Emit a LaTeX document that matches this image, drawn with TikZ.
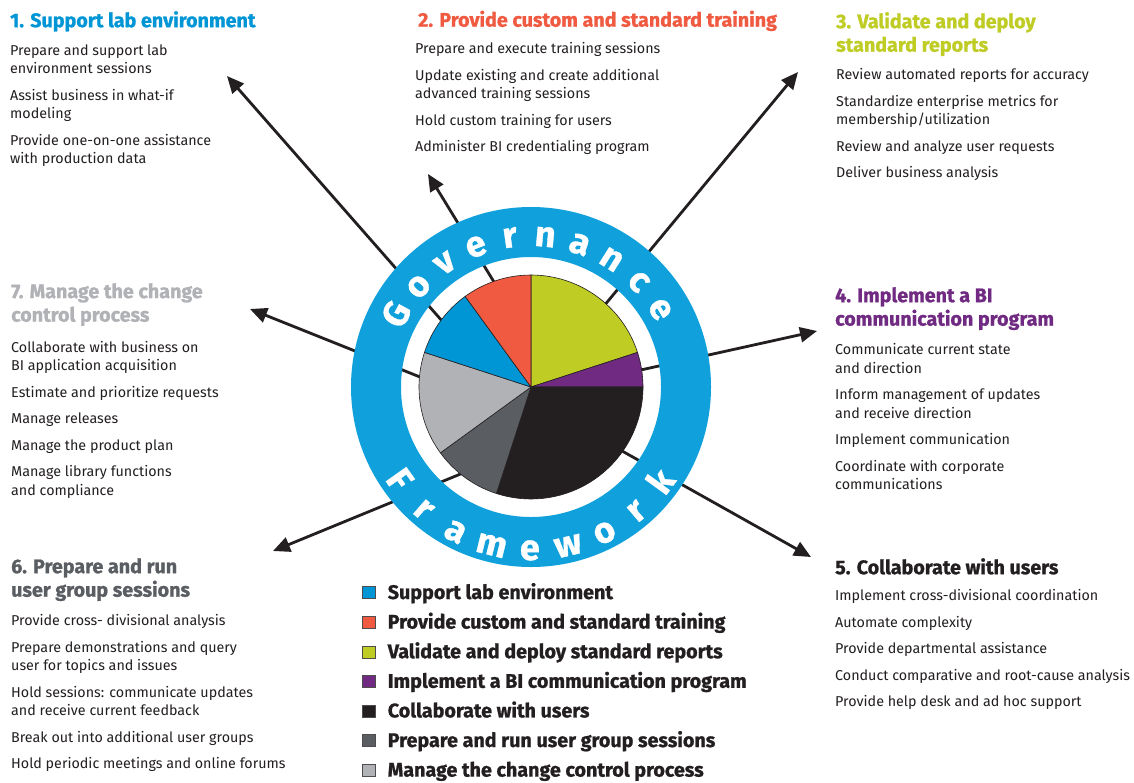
\documentclass[tikz,border=0pt]{standalone}
\usepackage{fontspec}
\setmainfont{Fira Sans}
\newfontfamily\headfont[BoldFeatures={FakeBold=1}]{Fira Sans}
\usetikzlibrary{arrows.meta, calc, positioning}
\definecolor{labcol}{RGB}{0, 150, 214}
\definecolor{traincol}{RGB}{240, 90, 64}
\definecolor{reportcol}{RGB}{190, 204, 36}
\definecolor{commcol}{RGB}{112, 42, 130}
\definecolor{usercol}{RGB}{35, 31, 32}
\definecolor{groupcol}{RGB}{90, 93, 98}
\definecolor{changecol}{RGB}{176, 178, 182}
\definecolor{ringcol}{RGB}{16, 160, 220}
\definecolor{inkcol}{RGB}{35, 31, 32}
\tikzset{
  head/.style  = {anchor=north west, align=left, inner sep=0pt,
                  font=\fontsize{19.7}{23.5}\selectfont\headfont\bfseries},
  body/.style  = {anchor=north west, align=left, inner sep=0pt, text=inkcol,
                  font=\fontsize{14.3}{18.5}\selectfont},
  spoke/.style = {draw=inkcol, line width=2.8pt,
                  -{Triangle[length=17pt, width=15pt]}},
  slice/.style = {draw=inkcol, line width=0.6pt, line join=round},
  % white letters set one by one round the ring
  ringletter/.style = {text=white, inner sep=0pt, anchor=base,
                  font=\fontsize{36}{36}\selectfont\headfont\bfseries},
  keybox/.style  = {draw=inkcol!80, line width=0.6pt, minimum width=13pt,
                  minimum height=12pt, inner sep=0pt, anchor=south west},
  keytext/.style = {anchor=base west, inner sep=0pt, text=inkcol,
                  font=\fontsize{19.7}{19.7}\selectfont\headfont\bfseries},
}

\begin{document}
\begin{tikzpicture}[x=1pt, y=-1pt]

  \fill[white] (0,0) rectangle (1134,782);
  \useasboundingbox (0,0) rectangle (1134,782);

  \coordinate (hub) at (531,387);

  %% ---------------- spokes, drawn first so the ring covers them ----------------
  \coordinate (s1) at (500,387);  \coordinate (e1) at (227,76);
  \coordinate (s2) at (505,300);  \coordinate (e2) at (428,174);
  \coordinate (s3) at (584,330);  \coordinate (e3) at (798,72);
  \coordinate (s4) at (600,379);  \coordinate (e4) at (817,331);
  \coordinate (s5) at (590,433);  \coordinate (e5) at (811,557);
  \coordinate (s6) at (480,466);  \coordinate (e6) at (273,551);
  \coordinate (s7) at (460,393);  \coordinate (e7) at (250,309);
  \foreach \i in {1,...,7}
    \draw[spoke] (s\i) -- (e\i);

  %% ---------------- ring and pie ----------------
  \begin{scope}[shift={(hub)}, y=1pt]
    \fill[ringcol, even odd rule] (0,0) circle[radius=180]
                                  (0,0) circle[radius=130];
    \foreach \a/\b/\c in {90/18/reportcol, 18/0/commcol, 0/-108/usercol,
                          -108/-144/groupcol, -144/-198/changecol,
                          162/126/labcol, 126/90/traincol}
      \filldraw[slice, fill=\c] (0,0) -- (\a:112)
        arc[start angle=\a, end angle=\b, radius=112] -- cycle;

    \foreach \ch [count=\i] in {G,o,v,e,r,n,a,n,c,e}
      \node[ringletter, rotate={61.6-13.4*(\i-1)}] (gov\i)
           at ({151.6-13.4*(\i-1)}:141) {\ch};
    \foreach \ch [count=\i] in {F,r,a,m,e,w,o,r,k}
      \node[ringletter, rotate={305.2+13.6*(\i-1)}] (frm\i)
           at ({215.2+13.6*(\i-1)}:173) {\ch};
  \end{scope}

  %% ---------------- the seven duties ----------------
  \node[head, text=labcol] (t1) at (10,11) {1. Support lab environment};
  \node[body] (l1) at (10,44.2)
       {Prepare and support lab\\environment sessions\\[8pt]
        Assist business in what-if\\modeling\\[8pt]
        Provide one-on-one assistance\\with production data};

  \node[head, text=traincol] (t2) at (418,10.5)
       {2. Provide custom and standard training};
  \node[body] (l2) at (415,42.5)
       {Prepare and execute training sessions\\[8pt]
        Update existing and create additional\\advanced training sessions\\[8pt]
        Hold custom training for users\\[8pt]
        Administer BI credentialing program};

  \node[head, text=reportcol] (t3) at (836,12)
       {3. Validate and deploy\\standard reports};
  \node[body] (l3) at (836,68.5)
       {Review automated reports for accuracy\\[8pt]
        Standardize enterprise metrics for\\membership/utilization\\[8pt]
        Review and analyze user requests\\[8pt]
        Deliver business analysis};

  \node[head, text=commcol] (t4) at (835,287)
       {4. Implement a BI\\communication program};
  \node[body] (l4) at (835,343.2)
       {Communicate current state\\and direction\\[8pt]
        Inform management of updates\\and receive direction\\[8pt]
        Implement communication\\[8pt]
        Coordinate with corporate\\communications};

  \node[head, text=usercol] (t5) at (835,558) {5. Collaborate with users};
  \node[body] (l5) at (835,589.2)
       {Implement cross-divisional coordination\\[8pt]
        Automate complexity\\[8pt]
        Provide departmental assistance\\[8pt]
        Conduct comparative and root-cause analysis\\[8pt]
        Provide help desk and ad hoc support};

  \node[head, text=groupcol] (t6) at (11,558)
       {6. Prepare and run\\user group sessions};
  \node[body] (l6) at (11,614.2)
       {Provide cross- divisional analysis\\[8pt]
        Prepare demonstrations and query\\user for topics and issues\\[8pt]
        Hold sessions: communicate updates\\and receive current feedback\\[8pt]
        Break out into additional user groups\\[8pt]
        Hold periodic meetings and online forums};

  \node[head, text=changecol] (t7) at (11,283)
       {7. Manage the change\\control process};
  \node[body] (l7) at (11,341)
       {Collaborate with business on\\BI application acquisition\\[8pt]
        Estimate and prioritize requests\\[8pt]
        Manage releases\\[8pt]
        Manage the product plan\\[8pt]
        Manage library functions\\and compliance};

  %% ---------------- key ----------------
  \foreach \c/\t [count=\i] in {labcol/Support lab environment,
      traincol/Provide custom and standard training,
      reportcol/Validate and deploy standard reports,
      commcol/Implement a BI communication program,
      usercol/Collaborate with users,
      groupcol/Prepare and run user group sessions,
      changecol/Manage the change control process}
  {
    \node[keybox, fill=\c] (key\i) at (362,{599+29.6*(\i-1)}) {};
    \node[keytext] (lab\i) at ($(key\i.south east)+(12,0)$) {\t};
  }

\end{tikzpicture}
\end{document}
